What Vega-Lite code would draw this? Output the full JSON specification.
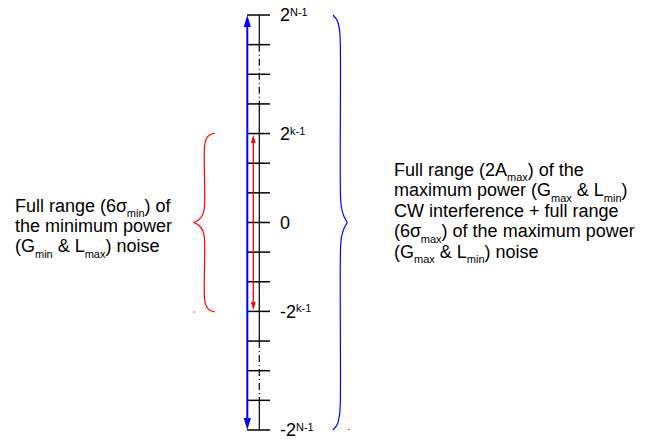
{
  "$schema": "https://vega.github.io/schema/vega-lite/v6.json",
  "width": 661,
  "height": 441,
  "autosize": {"type": "fit", "contains": "padding"},
  "padding": 0,
  "background": "white",
  "config": {"view": {"stroke": null}},
  "datasets": {
    "ticks": [
      {"level": 7}, {"level": 6}, {"level": 5}, {"level": 4}, {"level": 3}, {"level": 2}, {"level": 1}, {"level": 0},
      {"level": -1}, {"level": -2}, {"level": -3}, {"level": -4}, {"level": -5}, {"level": -6}, {"level": -7}
    ],
    "spine": [
      {"pos": 259.3, "from": 7, "to": 6, "style": "solid"},
      {"pos": 259.3, "from": 6, "to": 4, "style": "dashdot"},
      {"pos": 259.3, "from": 4, "to": -4, "style": "solid"},
      {"pos": 259.3, "from": -4, "to": -6, "style": "dashdot"},
      {"pos": 259.3, "from": -6, "to": -7, "style": "solid"}
    ],
    "arrows": [
      {"pos": 247.3, "from": 6.8, "to": -6.8, "series": "max"},
      {"pos": 253.3, "from": 2.82, "to": -2.82, "series": "min"}
    ],
    "heads": [
      {"pos": 247.3, "level": 6.798, "dir": "up", "series": "max"},
      {"pos": 247.3, "level": -6.798, "dir": "down", "series": "max"},
      {"pos": 253.3, "level": 2.817, "dir": "up", "series": "min"},
      {"pos": 253.3, "level": -2.817, "dir": "down", "series": "min"}
    ],
    "braces": [
      {"series": "min", "half": "a", "i": 0, "pos": 215, "level": 3.019},
      {"series": "min", "half": "a", "i": 1, "pos": 209.5, "level": 2.952},
      {"series": "min", "half": "a", "i": 2, "pos": 206, "level": 2.8},
      {"series": "min", "half": "a", "i": 3, "pos": 204.5, "level": 2.547},
      {"series": "min", "half": "a", "i": 4, "pos": 204.5, "level": 0.557},
      {"series": "min", "half": "a", "i": 5, "pos": 203, "level": 0.287},
      {"series": "min", "half": "a", "i": 6, "pos": 199, "level": 0.101},
      {"series": "min", "half": "a", "i": 7, "pos": 193.5, "level": 0},
      {"series": "min", "half": "b", "i": 0, "pos": 193.5, "level": 0},
      {"series": "min", "half": "b", "i": 1, "pos": 199, "level": -0.101},
      {"series": "min", "half": "b", "i": 2, "pos": 203, "level": -0.287},
      {"series": "min", "half": "b", "i": 3, "pos": 204.5, "level": -0.557},
      {"series": "min", "half": "b", "i": 4, "pos": 204.5, "level": -2.547},
      {"series": "min", "half": "b", "i": 5, "pos": 206, "level": -2.8},
      {"series": "min", "half": "b", "i": 6, "pos": 209.5, "level": -2.952},
      {"series": "min", "half": "b", "i": 7, "pos": 215, "level": -3.019},
      {"series": "max", "half": "c", "i": 0, "pos": 333, "level": 7.0},
      {"series": "max", "half": "c", "i": 1, "pos": 337.5, "level": 6.798},
      {"series": "max", "half": "c", "i": 2, "pos": 339.5, "level": 6.494},
      {"series": "max", "half": "c", "i": 3, "pos": 340.3, "level": 6.089},
      {"series": "max", "half": "c", "i": 4, "pos": 340.5, "level": 0.928},
      {"series": "max", "half": "c", "i": 5, "pos": 341.5, "level": 0.489},
      {"series": "max", "half": "c", "i": 6, "pos": 344, "level": 0.202},
      {"series": "max", "half": "c", "i": 7, "pos": 347.3, "level": 0},
      {"series": "max", "half": "d", "i": 0, "pos": 347.3, "level": 0},
      {"series": "max", "half": "d", "i": 1, "pos": 344, "level": -0.202},
      {"series": "max", "half": "d", "i": 2, "pos": 341.5, "level": -0.489},
      {"series": "max", "half": "d", "i": 3, "pos": 340.5, "level": -0.928},
      {"series": "max", "half": "d", "i": 4, "pos": 340.3, "level": -6.089},
      {"series": "max", "half": "d", "i": 5, "pos": 339.5, "level": -6.494},
      {"series": "max", "half": "d", "i": 6, "pos": 337.5, "level": -6.798},
      {"series": "max", "half": "d", "i": 7, "pos": 333, "level": -7.0}
    ],
    "dots": [
      {"series": "min", "pos": 194, "level": -3.02},
      {"series": "max", "pos": 349, "level": -6.98}
    ],
    "ticklabels": [
      {"pos": 280, "level": 7, "t": "2", "kind": "base"},
      {"pos": 290, "level": 7, "t": "N-1", "kind": "sup"},
      {"pos": 280, "level": 3, "t": "2", "kind": "base"},
      {"pos": 290, "level": 3, "t": "k-1", "kind": "sup"},
      {"pos": 280, "level": 0, "t": "0", "kind": "base"},
      {"pos": 280, "level": -3, "t": "-2", "kind": "base"},
      {"pos": 296, "level": -3, "t": "k-1", "kind": "sup"},
      {"pos": 280, "level": -7, "t": "-2", "kind": "base"},
      {"pos": 296, "level": -7, "t": "N-1", "kind": "sup"}
    ],
    "notes": [
      {"pos": 15, "level": 0.368, "t": "Full range (6σ", "kind": "main"},
      {"pos": 126.8, "level": 0.368, "t": "min", "kind": "sub"},
      {"pos": 144.5, "level": 0.368, "t": ") of", "kind": "main"},
      {"pos": 15, "level": -0.317, "t": "the minimum power", "kind": "main"},
      {"pos": 15, "level": -1.002, "t": "(G", "kind": "main"},
      {"pos": 35, "level": -1.002, "t": "min", "kind": "sub"},
      {"pos": 57.7, "level": -1.002, "t": "& L", "kind": "main"},
      {"pos": 84.7, "level": -1.002, "t": "max", "kind": "sub"},
      {"pos": 105.5, "level": -1.002, "t": ") noise", "kind": "main"},
      {"pos": 394, "level": 1.569, "t": "Full range (2A", "kind": "main"},
      {"pos": 507, "level": 1.569, "t": "max", "kind": "sub"},
      {"pos": 527.8, "level": 1.569, "t": ") of the", "kind": "main"},
      {"pos": 394, "level": 0.88, "t": "maximum power (G", "kind": "main"},
      {"pos": 551, "level": 0.88, "t": "max", "kind": "sub"},
      {"pos": 576.8, "level": 0.88, "t": "& L", "kind": "main"},
      {"pos": 603.8, "level": 0.88, "t": "min", "kind": "sub"},
      {"pos": 621.5, "level": 0.88, "t": ")", "kind": "main"},
      {"pos": 394, "level": 0.192, "t": "CW interference + full range", "kind": "main"},
      {"pos": 394, "level": -0.496, "t": "(6σ", "kind": "main"},
      {"pos": 420.8, "level": -0.496, "t": "max", "kind": "sub"},
      {"pos": 441.6, "level": -0.496, "t": ") of the maximum power", "kind": "main"},
      {"pos": 394, "level": -1.184, "t": "(G", "kind": "main"},
      {"pos": 414, "level": -1.184, "t": "max", "kind": "sub"},
      {"pos": 439.8, "level": -1.184, "t": "& L", "kind": "main"},
      {"pos": 466.8, "level": -1.184, "t": "min", "kind": "sub"},
      {"pos": 484.5, "level": -1.184, "t": ") noise", "kind": "main"}
    ]
  },
  "layer": [
    {
      "data": {"name": "ticks"},
      "mark": {"type": "rule", "color": "black", "strokeWidth": 1.5},
      "encoding": {
        "x": {"datum": 247, "type": "quantitative", "scale": {"domain": [0, 661], "nice": false, "zero": false}, "axis": null},
        "x2": {"datum": 270},
        "y": {"field": "level", "type": "quantitative", "scale": {"domain": [-7.372, 7.506], "nice": false, "zero": false}, "axis": null}
      }
    },
    {
      "data": {"name": "spine"},
      "mark": {"type": "rule", "color": "black", "strokeWidth": 1.2},
      "encoding": {
        "x": {"field": "pos", "type": "quantitative"},
        "y": {"field": "from", "type": "quantitative"},
        "y2": {"field": "to"},
        "strokeDash": {"field": "style", "type": "nominal", "scale": {"domain": ["solid", "dashdot"], "range": [[1, 0], [7, 3, 1, 3]]}, "legend": null}
      }
    },
    {
      "data": {"name": "arrows"},
      "mark": {"type": "rule"},
      "encoding": {
        "x": {"field": "pos", "type": "quantitative"},
        "y": {"field": "from", "type": "quantitative"},
        "y2": {"field": "to"},
        "color": {"field": "series", "type": "nominal", "scale": {"domain": ["max", "min"], "range": ["#0000ff", "#ff0000"]}, "legend": null},
        "strokeWidth": {"field": "series", "type": "nominal", "scale": {"domain": ["max", "min"], "range": [2, 1.3]}, "legend": null}
      }
    },
    {
      "data": {"name": "heads"},
      "mark": {"type": "point", "filled": true, "opacity": 1, "strokeWidth": 0},
      "encoding": {
        "x": {"field": "pos", "type": "quantitative"},
        "y": {"field": "level", "type": "quantitative"},
        "shape": {"field": "dir", "type": "nominal", "scale": {"domain": ["up", "down"], "range": ["M0,-1L0.6,1L-0.6,1Z", "M0,1L0.6,-1L-0.6,-1Z"]}, "legend": null},
        "color": {"field": "series", "type": "nominal", "legend": null},
        "size": {"field": "series", "type": "nominal", "scale": {"domain": ["max", "min"], "range": [144, 64]}, "legend": null}
      }
    },
    {
      "data": {"name": "braces"},
      "mark": {"type": "line", "interpolate": "catmull-rom", "strokeWidth": 1.2},
      "encoding": {
        "x": {"field": "pos", "type": "quantitative"},
        "y": {"field": "level", "type": "quantitative"},
        "order": {"field": "i", "type": "quantitative"},
        "detail": {"field": "half", "type": "nominal"},
        "color": {"field": "series", "type": "nominal", "legend": null}
      }
    },
    {
      "data": {"name": "dots"},
      "mark": {"type": "circle", "opacity": 1},
      "encoding": {
        "x": {"field": "pos", "type": "quantitative"},
        "y": {"field": "level", "type": "quantitative"},
        "color": {"field": "series", "type": "nominal", "legend": null},
        "size": {"value": 2}
      }
    },
    {
      "data": {"name": "ticklabels"},
      "transform": [{"filter": "datum.kind === 'base'"}],
      "mark": {"type": "text", "align": "left", "baseline": "alphabetic", "font": "Liberation Sans", "fontSize": 18, "dy": 6.5, "color": "black"},
      "encoding": {
        "x": {"field": "pos", "type": "quantitative"},
        "y": {"field": "level", "type": "quantitative"},
        "text": {"field": "t"}
      }
    },
    {
      "data": {"name": "ticklabels"},
      "transform": [{"filter": "datum.kind === 'sup'"}],
      "mark": {"type": "text", "align": "left", "baseline": "alphabetic", "font": "Liberation Sans", "fontSize": 11, "dy": 1, "color": "black"},
      "encoding": {
        "x": {"field": "pos", "type": "quantitative"},
        "y": {"field": "level", "type": "quantitative"},
        "text": {"field": "t"}
      }
    },
    {
      "data": {"name": "notes"},
      "transform": [{"filter": "datum.kind === 'main'"}],
      "mark": {"type": "text", "align": "left", "baseline": "alphabetic", "font": "Liberation Sans", "fontSize": 18, "color": "black"},
      "encoding": {
        "x": {"field": "pos", "type": "quantitative"},
        "y": {"field": "level", "type": "quantitative"},
        "text": {"field": "t"}
      }
    },
    {
      "data": {"name": "notes"},
      "transform": [{"filter": "datum.kind === 'sub'"}],
      "mark": {"type": "text", "align": "left", "baseline": "alphabetic", "font": "Liberation Sans", "fontSize": 11, "dy": 5.5, "color": "black"},
      "encoding": {
        "x": {"field": "pos", "type": "quantitative"},
        "y": {"field": "level", "type": "quantitative"},
        "text": {"field": "t"}
      }
    }
  ]
}
